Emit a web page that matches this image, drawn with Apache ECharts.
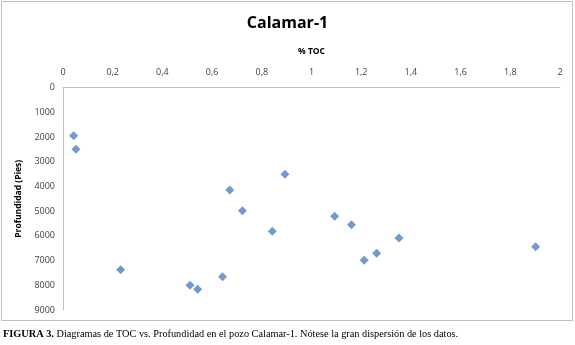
<!DOCTYPE html>
<html>
<head>
<meta charset="utf-8">
<script src="https://cdn.jsdelivr.net/npm/echarts@6/dist/echarts.min.js"></script>
<style>
html,body{margin:0;padding:0;background:#fff;}
#c{width:575px;height:345px;}
</style>
</head>
<body>
<div id="c"></div>
<script>
var toc = [0.043, 0.052, 0.232, 0.511, 0.542, 0.642, 0.671, 0.722, 0.842, 0.893, 1.093, 1.161, 1.212, 1.262, 1.352, 1.902];
var depth = [1950, 2500, 7370, 8000, 8165, 7655, 4145, 4985, 5815, 3510, 5210, 5550, 6990, 6705, 6090, 6440];
var xTicks = [0, 0.2, 0.4, 0.6, 0.8, 1, 1.2, 1.4, 1.6, 1.8, 2];
var yTicks = [0, 1000, 2000, 3000, 4000, 5000, 6000, 7000, 8000, 9000];
var titleText = 'Calamar-1';
var xName = '% TOC';
var yName = 'Profundidad (Pies)';
var captionBold = 'FIGURA 3.';
var captionRest = ' Diagramas de TOC vs. Profundidad en el pozo Calamar-1. Nótese la gran dispersión de los datos.';

var pts = toc.map(function (v, i) { return [v, depth[i]]; });
var chart = echarts.init(document.getElementById('c'), null, {renderer: 'canvas'});
var fnt = "'Open Sans', 'Liberation Sans', sans-serif";
chart.setOption({
  animation: false,
  backgroundColor: '#fff',
  graphic: [
    {type: 'rect', shape: {x: 1.5, y: 1.5, width: 571, height: 319}, style: {fill: 'none', stroke: '#bfbfbf', lineWidth: 1}, z: -1},
    {type: 'text', left: 3, top: 329, style: {
      text: '{b|' + captionBold + '}' + captionRest,
      font: "10.3px 'Liberation Serif', 'Times New Roman', serif", fill: '#000',
      rich: {b: {fontWeight: 'bold', fontFamily: "'Liberation Serif', serif", fontSize: 10.3, fill: '#000'}}
    }}
  ],
  title: {
    text: titleText, left: 'center', top: 10,
    textStyle: {fontFamily: fnt, fontWeight: 'bold', fontSize: 16, color: '#000'}
  },
  grid: {left: 63, right: 15, top: 87.5, bottom: 35, containLabel: false},
  xAxis: {
    type: 'value', position: 'top', min: 0, max: 2, interval: 0.2,
    name: xName, nameLocation: 'middle', nameGap: 31,
    nameTextStyle: {fontFamily: fnt, fontWeight: 'bold', fontSize: 8.5, color: '#000'},
    axisLine: {show: true, lineStyle: {color: '#bfbfbf', width: 1}},
    axisTick: {show: false},
    splitLine: {show: false},
    axisLabel: {
      fontFamily: fnt, fontSize: 9, color: '#404040', margin: 11,
      formatter: function (v) { return String(Math.round(v * 10) / 10).replace('.', ','); }
    }
  },
  yAxis: {
    type: 'value', inverse: true, min: 0, max: 9000, interval: 1000,
    name: yName, nameLocation: 'middle', nameGap: 40, nameRotate: 90,
    nameTextStyle: {fontFamily: fnt, fontWeight: 'bold', fontSize: 8.5, color: '#000'},
    axisLine: {show: true, lineStyle: {color: '#bfbfbf', width: 1}},
    axisTick: {show: false},
    splitLine: {show: false},
    axisLabel: {fontFamily: fnt, fontSize: 9, color: '#404040', margin: 8,
      formatter: function (v) { return String(v); }}
  },
  series: [{
    type: 'scatter', data: pts, symbol: 'diamond', symbolSize: 9,
    itemStyle: {color: '#4f81bd'}
  }]
});
</script>
</body>
</html>
